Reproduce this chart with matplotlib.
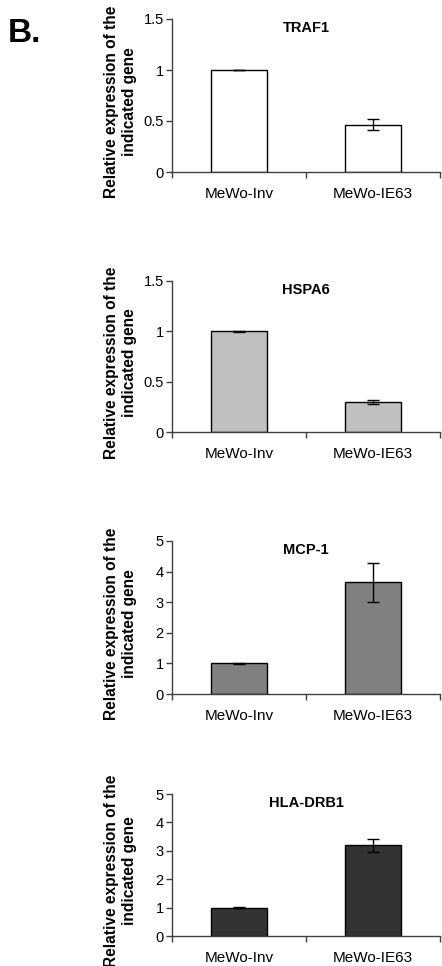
import matplotlib
matplotlib.use("Agg")
import matplotlib.pyplot as plt
from matplotlib.ticker import FixedLocator

plt.rcParams['font.family'] = ['Liberation Sans', 'DejaVu Sans']

categories = ["MeWo-Inv", "MeWo-IE63"]
genes = ["TRAF1", "HSPA6", "MCP-1", "HLA-DRB1"]
values = {
    "TRAF1": [1.0, 0.465],
    "HSPA6": [1.0, 0.295],
    "MCP-1": [1.0, 3.65],
    "HLA-DRB1": [1.0, 3.2],
}
errors = {
    "TRAF1": [0.003, 0.055],
    "HSPA6": [0.003, 0.02],
    "MCP-1": [0.005, 0.63],
    "HLA-DRB1": [0.01, 0.23],
}
yticks = {
    "TRAF1": [0, 0.5, 1, 1.5],
    "HSPA6": [0, 0.5, 1, 1.5],
    "MCP-1": [0, 1, 2, 3, 4, 5],
    "HLA-DRB1": [0, 1, 2, 3, 4, 5],
}
ytick_labels = {
    "TRAF1": ["0", "0.5", "1", "1.5"],
    "HSPA6": ["0", "0.5", "1", "1.5"],
    "MCP-1": ["0", "1", "2", "3", "4", "5"],
    "HLA-DRB1": ["0", "1", "2", "3", "4", "5"],
}
colors = {"TRAF1": "#ffffff", "HSPA6": "#c0c0c0", "MCP-1": "#808080", "HLA-DRB1": "#333333"}

W, H = 442, 966
fig = plt.figure(figsize=(W / 100, H / 100), dpi=100)

# panel pixel bounds (top, bottom)
panels = [(19, 172), (281, 432), (541, 694), (794, 936)]
left_px, right_px = 172, 440

axis_col = "#404040"
for gene, (top, bot) in zip(genes, panels):
    ax = fig.add_axes([left_px / W, 1 - bot / H, (right_px - left_px) / W, (bot - top) / H])
    x = list(range(len(categories)))
    ax.bar(x, values[gene], width=0.42, color=colors[gene], edgecolor="black", linewidth=1.0, zorder=2)
    ax.errorbar(x, values[gene], yerr=errors[gene], fmt="none", ecolor="black",
                elinewidth=1.0, capsize=4, capthick=1.0, zorder=3)
    ax.set_xlim(-0.5, 1.5)
    ax.set_ylim(0, yticks[gene][-1])
    ax.set_yticks(yticks[gene])
    ax.set_yticklabels(ytick_labels[gene], fontsize=10.5)
    ax.set_xticks(x)
    ax.set_xticklabels(categories, fontsize=11)
    ax.tick_params(axis="x", which="major", length=0, pad=11)
    ax.xaxis.set_minor_locator(FixedLocator([-0.5, 0.5, 1.5]))
    ax.tick_params(axis="x", which="minor", length=4, width=1, color=axis_col, direction="out")
    ax.tick_params(axis="y", length=4, width=1, color=axis_col, direction="out", pad=2)
    for s in ["top", "right"]:
        ax.spines[s].set_visible(False)
    for s in ["left", "bottom"]:
        ax.spines[s].set_color(axis_col)
        ax.spines[s].set_linewidth(1.0)
    ax.text(0.5, 0.94, gene, transform=ax.transAxes, ha="center", va="center",
            fontsize=10.5, fontweight="bold")
    ax.set_ylabel("Relative expression of the\nindicated gene", fontsize=11.2,
                  fontweight="bold", linespacing=1.3)
    ax.yaxis.set_label_coords(-0.13, 0.46)

fig.text(8 / W, 1 - 42 / H, "B.", fontsize=24, fontweight="bold", ha="left", va="baseline")

fig.savefig("out.png", dpi=100, facecolor="white")
